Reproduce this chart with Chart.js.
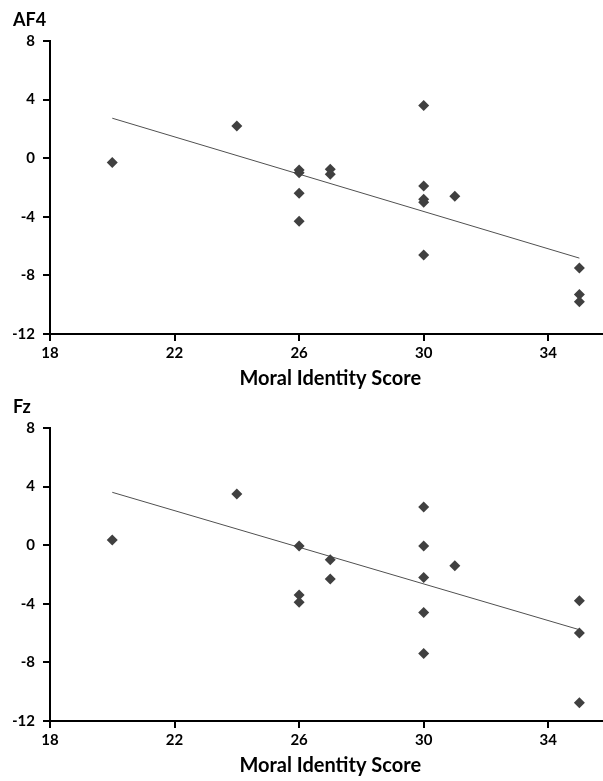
<!DOCTYPE html>
<html>
<head>
<meta charset="utf-8">
<script src="https://cdn.jsdelivr.net/npm/chart.js@4.4.1/dist/chart.umd.min.js"></script>
<style>
	html, body { margin: 0; padding: 0; background: #fff; }
	.page { position: relative; width: 603px; height: 781px; overflow: hidden; }
	.page canvas { position: absolute; left: 0; }
	#chartAF4 { top: 0; }
	#chartFz { top: 387px; }
</style>
</head>
<body>
<div class="page">
	<canvas id="chartAF4" width="616" height="395"></canvas>
	<canvas id="chartFz" width="616" height="394"></canvas>
</div>
<script>
const xTitle = 'Moral Identity Score';
const xTicks = [18, 22, 26, 30, 34];
const yTicks = [-12, -8, -4, 0, 4, 8];

const af4X = [20, 24, 26, 26, 26, 26, 27, 27, 30, 30, 30, 30, 30, 31, 35, 35, 35];
const af4Y = [-0.3, 2.2, -0.8, -1.0, -2.4, -4.3, -0.75, -1.1, 3.6, -1.9, -2.8, -3.0, -6.6, -2.6, -7.5, -9.3, -9.8];

const fzX = [20, 24, 26, 26, 26, 27, 27, 30, 30, 30, 30, 30, 31, 35, 35, 35];
const fzY = [0.35, 3.5, -0.05, -3.4, -3.9, -1.0, -2.3, 2.6, -0.05, -2.2, -4.6, -7.4, -1.4, -3.8, -6.0, -10.75];

const trendX = [20, 35];
const af4Trend = [2.73, -6.82];
const fzTrend = [3.61, -5.77];

const fontFamily = 'Lato, "Open Sans", sans-serif';

function pairs(xs, ys) {
	return xs.map((x, i) => ({ x: x, y: ys[i] }));
}

function makeChart(id, title, xs, ys, trend, bottomPad) {
	const ctx = document.getElementById(id);
	new Chart(ctx, {
		type: 'scatter',
		data: {
			datasets: [
				{
					type: 'scatter',
					data: pairs(xs, ys),
					pointStyle: 'rectRot',
					pointRadius: 5.5,
					backgroundColor: '#404040',
					borderColor: '#404040',
					borderWidth: 0,
				},
				{
					type: 'line',
					data: pairs(trendX, trend),
					borderColor: '#505050',
					borderWidth: 1,
					pointRadius: 0,
					fill: false,
				},
			],
		},
		options: {
			responsive: false,
			animation: false,
			layout: {
				padding: { left: 13, right: 4, top: 0, bottom: bottomPad }
			},
			plugins: {
				legend: false,
				tooltip: { enabled: false },
				title: {
					display: true,
					text: title,
					align: 'start',
					color: '#000',
					font: { family: fontFamily, size: 18, weight: 'bold', lineHeight: 1.2 },
					padding: { top: 9.5, bottom: 9.9 }
				}
			},
			scales: {
				x: {
					type: 'linear',
					position: 'bottom',
					min: xTicks[0],
					max: 36,
					afterBuildTicks: scale => {
						scale.ticks = xTicks.map(v => ({ value: v }));
					},
					afterFit: scale => {
						scale.height = 57;
					},
					grid: {
						drawOnChartArea: false,
						drawTicks: true,
						tickLength: 7,
						color: '#000',
						lineWidth: 2
					},
					border: { display: true, color: '#000', width: 2 },
					ticks: {
						color: '#000',
						padding: 3,
						font: { family: fontFamily, size: 15, weight: 'bold' }
					},
					title: {
						display: true,
						text: xTitle,
						color: '#000',
						padding: 0,
						font: { family: fontFamily, size: 20, weight: 'bold', lineHeight: 1.2 }
					}
				},
				y: {
					type: 'linear',
					min: yTicks[0],
					max: yTicks[yTicks.length - 1],
					afterBuildTicks: scale => {
						scale.ticks = yTicks.map(v => ({ value: v }));
					},
					afterFit: scale => {
						scale.width = 37;
					},
					grid: {
						drawOnChartArea: false,
						drawTicks: true,
						tickLength: 7,
						color: '#000',
						lineWidth: 2
					},
					border: { display: true, color: '#000', width: 2 },
					ticks: {
						color: '#000',
						padding: 8,
						font: { family: fontFamily, size: 15, weight: 'bold' }
					}
				}
			}
		}
	});
}

makeChart('chartAF4', 'AF4', af4X, af4Y, af4Trend, 4);
makeChart('chartFz', 'Fz', fzX, fzY, fzTrend, 3);
</script>
</body>
</html>
